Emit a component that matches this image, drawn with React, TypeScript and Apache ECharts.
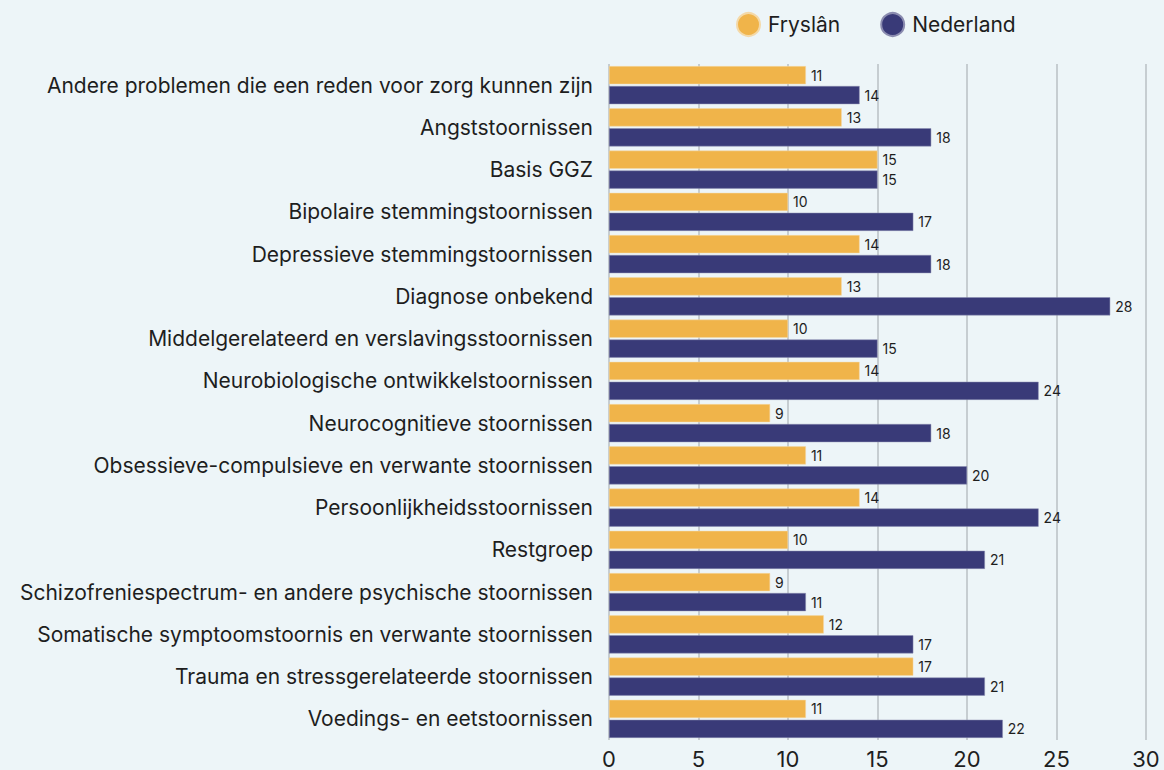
import React, { useEffect, useRef } from "react";
import * as echarts from "echarts";

const categories = [
  "Andere problemen die een reden voor zorg kunnen zijn",
  "Angststoornissen",
  "Basis GGZ",
  "Bipolaire stemmingstoornissen",
  "Depressieve stemmingstoornissen",
  "Diagnose onbekend",
  "Middelgerelateerd en verslavingsstoornissen",
  "Neurobiologische ontwikkelstoornissen",
  "Neurocognitieve stoornissen",
  "Obsessieve-compulsieve en verwante stoornissen",
  "Persoonlijkheidsstoornissen",
  "Restgroep",
  "Schizofreniespectrum- en andere psychische stoornissen",
  "Somatische symptoomstoornis en verwante stoornissen",
  "Trauma en stressgerelateerde stoornissen",
  "Voedings- en eetstoornissen",
];
const fryslan = [11, 13, 15, 10, 14, 13, 10, 14, 9, 11, 14, 10, 9, 12, 17, 11];
const nederland = [14, 18, 15, 17, 18, 28, 15, 24, 18, 20, 24, 21, 11, 17, 21, 22];
const seriesNames = ["Fryslân", "Nederland"];
const colors = ["#f0b44a", "#393a78"];

export default function App() {
  const ref = useRef<HTMLDivElement>(null);
  useEffect(() => {
    const chart = echarts.init(ref.current!, undefined, { renderer: "svg" });
    const label = {
      show: true,
      position: "right" as const,
      distance: 5,
      color: "#1e1e1e",
      fontSize: 14,
      fontFamily: "Inter",
    };
    chart.setOption({
      animation: false,
      backgroundColor: "#edf5f8",
      textStyle: { fontFamily: "Inter" },
      legend: {
        top: 7,
        left: 731,
        icon: "circle",
        itemWidth: 23,
        itemHeight: 23,
        itemGap: 40,
        textStyle: { fontSize: 21, color: "#1e1e1e", fontFamily: "Inter", padding: [0, 0, 0, 3] },
        data: seriesNames,
      },
      grid: { left: 609, right: 18, top: 64, bottom: 27, containLabel: false },
      xAxis: {
        type: "value",
        min: 0,
        max: 30,
        interval: 5,
        axisLine: { show: false },
        axisTick: { show: false },
        splitLine: { show: true, lineStyle: { color: "#b9bfc4", width: 1.5 } },
        axisLabel: { fontSize: 22, color: "#1e1e1e", margin: 8, fontFamily: "Inter" },
      },
      yAxis: {
        type: "category",
        data: categories,
        inverse: true,
        axisLine: { show: false },
        axisTick: { show: false },
        axisLabel: { fontSize: 21, color: "#1e1e1e", margin: 16, fontFamily: "Inter" },
      },
      series: [
        {
          name: seriesNames[0],
          type: "bar",
          data: fryslan,
          itemStyle: { color: colors[0], borderColor: "#f4d9a8", borderWidth: 0.5 },
          barGap: "10%",
          barCategoryGap: "10%",
          label,
        },
        {
          name: seriesNames[1],
          type: "bar",
          data: nederland,
          itemStyle: { color: colors[1], borderColor: "#8b8cb0", borderWidth: 0.5 },
          barGap: "10%",
          barCategoryGap: "10%",
          label,
        },
      ],
    });
    return () => chart.dispose();
  }, []);
  return <div ref={ref} style={{ width: 1164, height: 770, position: "absolute", left: 0, top: 0 }} />;
}
